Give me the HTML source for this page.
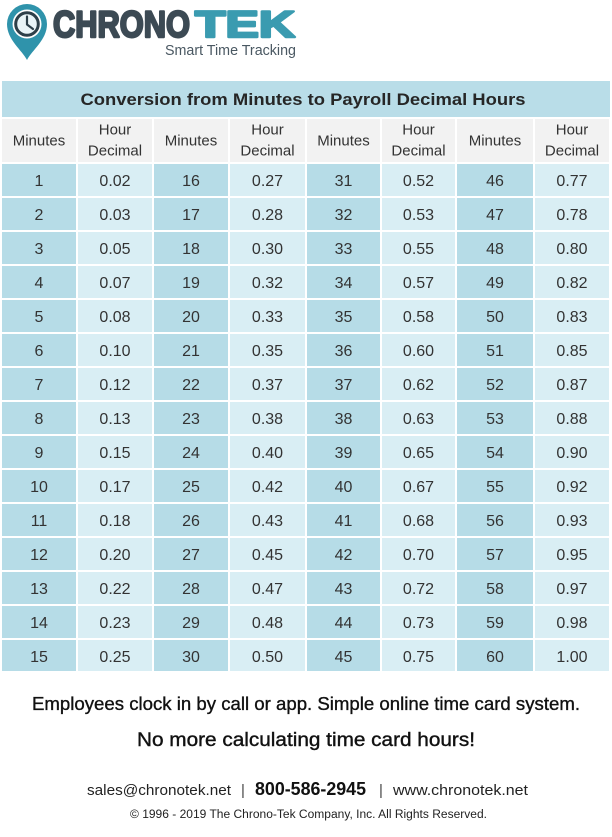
<!DOCTYPE html>
<html><head><meta charset="utf-8"><style>
html,body{margin:0;padding:0;background:#fff;}
svg{display:block;}
text{font-family:"Liberation Sans",sans-serif;}
</style></head><body>
<svg width="612" height="837" viewBox="0 0 612 837" xmlns="http://www.w3.org/2000/svg">
<rect width="612" height="837" fill="#fff"/>
<!-- Logo pin -->
<path d="M27 60 C22 50 7 40 7 24 A20 20 0 0 1 47 24 C47 40 32 50 27 60 Z" fill="#2f93ab"/>
<circle cx="27" cy="24" r="14.5" fill="#ffffff"/>
<circle cx="27" cy="24" r="11.3" fill="#e9f4f7" stroke="#2d3f49" stroke-width="3"/>
<path d="M27 16.5 V24.5 L33 29" fill="none" stroke="#2d3f49" stroke-width="2.2" stroke-linecap="round" stroke-linejoin="round"/>
<text x="53" y="37" font-size="37" font-weight="bold" fill="#3c4a54" stroke="#3c4a54" stroke-width="2.4" stroke-linejoin="round" textLength="137" lengthAdjust="spacingAndGlyphs">CHRONO</text>
<text x="195" y="37" font-size="37" font-weight="bold" fill="#3a9bb0" stroke="#3a9bb0" stroke-width="2.4" stroke-linejoin="round" textLength="100" lengthAdjust="spacingAndGlyphs">TEK</text>
<text x="165" y="55" font-size="15" fill="#4a5862" textLength="131" lengthAdjust="spacingAndGlyphs">Smart Time Tracking</text>

<!-- Title bar -->
<rect x="2" y="81" width="608" height="36" fill="#b9dde8"/>
<text x="303" y="105" font-size="17" font-weight="bold" fill="#262626" text-anchor="middle" textLength="445" lengthAdjust="spacingAndGlyphs">Conversion from Minutes to Payroll Decimal Hours</text>

<!-- Header cells -->
<g fill="#f2f2f2">
<rect x="2" y="119" width="74" height="43"/><rect x="78" y="119" width="74" height="43"/>
<rect x="154" y="119" width="74" height="43"/><rect x="230" y="119" width="75" height="43"/>
<rect x="307" y="119" width="73" height="43"/><rect x="382" y="119" width="73" height="43"/>
<rect x="457" y="119" width="76" height="43"/><rect x="535" y="119" width="74" height="43"/>
</g>
<g font-size="15" fill="#333" text-anchor="middle">
<text x="39" y="145.5">Minutes</text>
<text x="115" y="134.5">Hour</text><text x="115" y="155.5">Decimal</text>
<text x="191" y="145.5">Minutes</text>
<text x="267.5" y="134.5">Hour</text><text x="267.5" y="155.5">Decimal</text>
<text x="343.5" y="145.5">Minutes</text>
<text x="418.5" y="134.5">Hour</text><text x="418.5" y="155.5">Decimal</text>
<text x="495" y="145.5">Minutes</text>
<text x="572" y="134.5">Hour</text><text x="572" y="155.5">Decimal</text>
</g>

<!-- Column backgrounds -->
<g>
<rect x="2" y="164" width="74" height="507" fill="#b6dce7"/>
<rect x="78" y="164" width="74" height="507" fill="#d9eef4"/>
<rect x="154" y="164" width="74" height="507" fill="#b6dce7"/>
<rect x="230" y="164" width="75" height="507" fill="#d9eef4"/>
<rect x="307" y="164" width="73" height="507" fill="#b6dce7"/>
<rect x="382" y="164" width="73" height="507" fill="#d9eef4"/>
<rect x="457" y="164" width="76" height="507" fill="#b6dce7"/>
<rect x="535" y="164" width="74" height="507" fill="#d9eef4"/>
</g>
<!-- Row gaps -->
<g fill="#ffffff">
<rect x="0" y="196" width="612" height="2"/><rect x="0" y="230" width="612" height="2"/>
<rect x="0" y="264" width="612" height="2"/><rect x="0" y="298" width="612" height="2"/>
<rect x="0" y="332" width="612" height="2"/><rect x="0" y="366" width="612" height="2"/>
<rect x="0" y="400" width="612" height="2"/><rect x="0" y="434" width="612" height="2"/>
<rect x="0" y="468" width="612" height="2"/><rect x="0" y="502" width="612" height="2"/>
<rect x="0" y="536" width="612" height="2"/><rect x="0" y="570" width="612" height="2"/>
<rect x="0" y="604" width="612" height="2"/><rect x="0" y="638" width="612" height="2"/>
</g>

<!-- Data -->
<g font-size="16" fill="#333" text-anchor="middle">
<g transform="translate(0,186)"><text x="39">1</text><text x="115">0.02</text><text x="191">16</text><text x="267.5">0.27</text><text x="343.5">31</text><text x="418.5">0.52</text><text x="495">46</text><text x="572">0.77</text></g>
<g transform="translate(0,220)"><text x="39">2</text><text x="115">0.03</text><text x="191">17</text><text x="267.5">0.28</text><text x="343.5">32</text><text x="418.5">0.53</text><text x="495">47</text><text x="572">0.78</text></g>
<g transform="translate(0,254)"><text x="39">3</text><text x="115">0.05</text><text x="191">18</text><text x="267.5">0.30</text><text x="343.5">33</text><text x="418.5">0.55</text><text x="495">48</text><text x="572">0.80</text></g>
<g transform="translate(0,288)"><text x="39">4</text><text x="115">0.07</text><text x="191">19</text><text x="267.5">0.32</text><text x="343.5">34</text><text x="418.5">0.57</text><text x="495">49</text><text x="572">0.82</text></g>
<g transform="translate(0,322)"><text x="39">5</text><text x="115">0.08</text><text x="191">20</text><text x="267.5">0.33</text><text x="343.5">35</text><text x="418.5">0.58</text><text x="495">50</text><text x="572">0.83</text></g>
<g transform="translate(0,356)"><text x="39">6</text><text x="115">0.10</text><text x="191">21</text><text x="267.5">0.35</text><text x="343.5">36</text><text x="418.5">0.60</text><text x="495">51</text><text x="572">0.85</text></g>
<g transform="translate(0,390)"><text x="39">7</text><text x="115">0.12</text><text x="191">22</text><text x="267.5">0.37</text><text x="343.5">37</text><text x="418.5">0.62</text><text x="495">52</text><text x="572">0.87</text></g>
<g transform="translate(0,424)"><text x="39">8</text><text x="115">0.13</text><text x="191">23</text><text x="267.5">0.38</text><text x="343.5">38</text><text x="418.5">0.63</text><text x="495">53</text><text x="572">0.88</text></g>
<g transform="translate(0,458)"><text x="39">9</text><text x="115">0.15</text><text x="191">24</text><text x="267.5">0.40</text><text x="343.5">39</text><text x="418.5">0.65</text><text x="495">54</text><text x="572">0.90</text></g>
<g transform="translate(0,492)"><text x="39">10</text><text x="115">0.17</text><text x="191">25</text><text x="267.5">0.42</text><text x="343.5">40</text><text x="418.5">0.67</text><text x="495">55</text><text x="572">0.92</text></g>
<g transform="translate(0,526)"><text x="39">11</text><text x="115">0.18</text><text x="191">26</text><text x="267.5">0.43</text><text x="343.5">41</text><text x="418.5">0.68</text><text x="495">56</text><text x="572">0.93</text></g>
<g transform="translate(0,560)"><text x="39">12</text><text x="115">0.20</text><text x="191">27</text><text x="267.5">0.45</text><text x="343.5">42</text><text x="418.5">0.70</text><text x="495">57</text><text x="572">0.95</text></g>
<g transform="translate(0,594)"><text x="39">13</text><text x="115">0.22</text><text x="191">28</text><text x="267.5">0.47</text><text x="343.5">43</text><text x="418.5">0.72</text><text x="495">58</text><text x="572">0.97</text></g>
<g transform="translate(0,628)"><text x="39">14</text><text x="115">0.23</text><text x="191">29</text><text x="267.5">0.48</text><text x="343.5">44</text><text x="418.5">0.73</text><text x="495">59</text><text x="572">0.98</text></g>
<g transform="translate(0,662)"><text x="39">15</text><text x="115">0.25</text><text x="191">30</text><text x="267.5">0.50</text><text x="343.5">45</text><text x="418.5">0.75</text><text x="495">60</text><text x="572">1.00</text></g>
</g>

<!-- Footer -->
<text x="32" y="710" font-size="18" fill="#111" stroke="#111" stroke-width="0.35" textLength="548" lengthAdjust="spacingAndGlyphs">Employees clock in by call or app. Simple online time card system.</text>
<text x="137" y="746" font-size="19.5" fill="#111" stroke="#111" stroke-width="0.4" textLength="338" lengthAdjust="spacingAndGlyphs">No more calculating time card hours!</text>
<text x="87" y="795" font-size="15" fill="#222" textLength="144" lengthAdjust="spacingAndGlyphs">sales@chronotek.net</text>
<text x="241" y="795" font-size="15" fill="#444">|</text>
<text x="255" y="795" font-size="18" font-weight="bold" fill="#111" textLength="111" lengthAdjust="spacingAndGlyphs">800-586-2945</text>
<text x="379" y="795" font-size="15" fill="#444">|</text>
<text x="393" y="795" font-size="15" fill="#222" textLength="135" lengthAdjust="spacingAndGlyphs">www.chronotek.net</text>
<text x="130" y="818" font-size="11.5" fill="#222" textLength="357" lengthAdjust="spacingAndGlyphs">© 1996 - 2019 The Chrono-Tek Company, Inc. All Rights Reserved.</text>
</svg>
</body></html>
